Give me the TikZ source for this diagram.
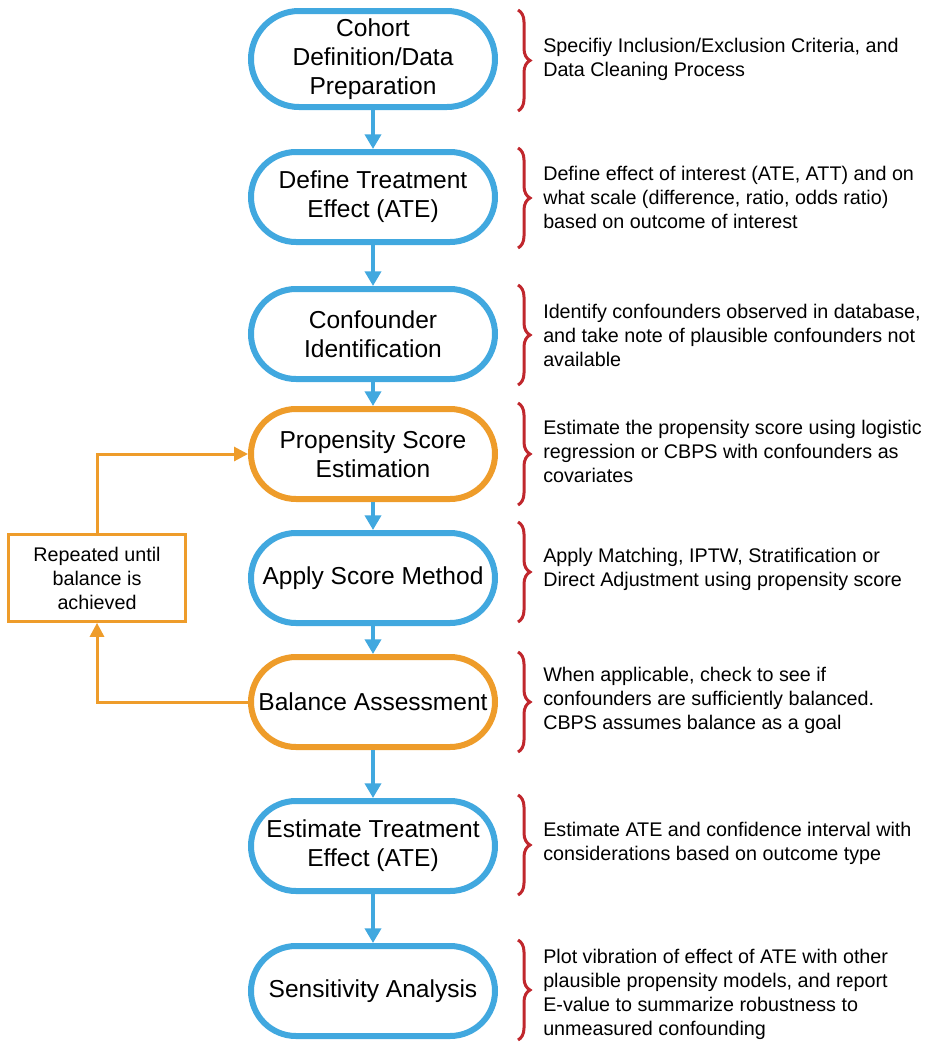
\documentclass[tikz,border=0pt]{standalone}
\usepackage{fontspec}
\setmainfont{Liberation Sans}
\usetikzlibrary{arrows.meta,decorations.pathreplacing}
\definecolor{cblue}{HTML}{41A8DF}
\definecolor{corange}{HTML}{EE9C2A}
\definecolor{cred}{HTML}{C0272D}
\begin{document}
\begin{tikzpicture}[x=0.75pt,y=-0.75pt,
  stage/.style={draw=cblue, line width=4.5pt, fill=white, rounded corners=33.75pt,
    minimum width=183pt, minimum height=67.5pt, inner sep=0pt, align=center,
    font=\fontsize{18.4}{21.75}\selectfont},
  ostage/.style={stage, draw=corange},
  desc/.style={anchor=west, align=left, inner sep=0pt, font=\fontsize{14.8}{18}\selectfont},
  flow/.style={draw=cblue, line width=3pt, -{Triangle[width=12pt,length=11pt]}},
  loop/.style={draw=corange, line width=2.25pt, -{Triangle[width=10.5pt,length=10.5pt]}},
  brc/.style={draw=cred, line width=2.25pt, decorate, decoration={brace, amplitude=9pt}},
  notebox/.style={draw=corange, line width=2.25pt, fill=white, minimum width=133pt,
    minimum height=65pt, inner sep=0pt, align=center, font=\fontsize{14.8}{18}\selectfont}
]
\useasboundingbox (0,0) rectangle (935,1050);

\node[stage, minimum height=72pt, rounded corners=36pt] (n1) at (373,59) {Cohort\\Definition/Data\\Preparation};
\node[stage] (n2) at (373,197) {Define Treatment\\Effect (ATE)};
\node[stage] (n3) at (373,334) {Confounder\\Identification};
\node[ostage] (n4) at (373,454) {Propensity Score\\Estimation};
\node[stage] (n5) at (373,578) {Apply Score Method};
\node[ostage] (n6) at (373,702) {Balance Assessment};
\node[stage] (n7) at (373,846) {Estimate Treatment\\Effect (ATE)};
\node[stage] (n8) at (373,991) {Sensitivity Analysis};

\draw[flow] (n1) -- (n2);
\draw[flow] (n2) -- (n3);
\draw[flow] (n3) -- (n4);
\draw[flow] (n4) -- (n5);
\draw[flow] (n5) -- (n6);
\draw[flow] (n6) -- (n7);
\draw[flow] (n7) -- (n8);

\node[notebox] (box) at (97,578) {Repeated until\\balance is\\achieved};
\draw[loop] (n6.west) -| (box.south);
\draw[loop] (box.north) |- (n4.west);

\draw[brc] (518,10) -- (518,111);
\draw[brc] (518,148) -- (518,248);
\draw[brc] (518,285) -- (518,385);
\draw[brc] (518,403) -- (518,505);
\draw[brc] (518,522) -- (518,622);
\draw[brc] (518,652) -- (518,752);
\draw[brc] (518,795) -- (518,895);
\draw[brc] (518,940) -- (518,1040);

\node[desc] (d1) at (543,59) {Specifiy Inclusion/Exclusion Criteria, and\\Data Cleaning Process};
\node[desc] (d2) at (543,197) {Define effect of interest (ATE, ATT) and on\\what scale (difference, ratio, odds ratio)\\based on outcome of interest};
\node[desc] (d3) at (543,335) {Identify confounders observed in database,\\and take note of plausible confounders not\\available};
\node[desc] (d4) at (543,451) {Estimate the propensity score using logistic\\regression or CBPS with confounders as\\covariates};
\node[desc] (d5) at (543,569) {Apply Matching, IPTW, Stratification or\\Direct Adjustment using propensity score};
\node[desc] (d6) at (543,700) {When applicable, check to see if\\confounders are sufficiently balanced.\\CBPS assumes balance as a goal};
\node[desc] (d7) at (543,843) {Estimate ATE and confidence interval with\\considerations based on outcome type};
\node[desc] (d8) at (543,994) {Plot vibration of effect of ATE with other\\plausible propensity models, and report\\E-value to summarize robustness to\\unmeasured confounding};
\end{tikzpicture}
\end{document}
